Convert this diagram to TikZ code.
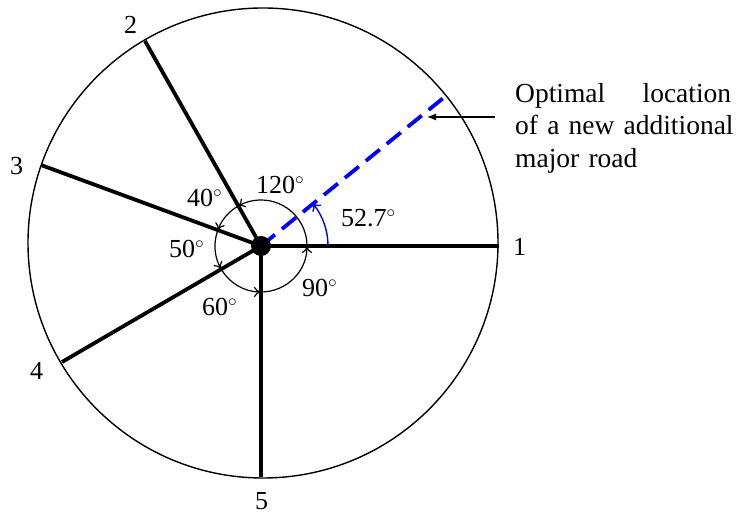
\documentclass[tikz,border=0pt]{standalone}
\usepackage{fontspec}
\setmainfont{Liberation Serif}
\usetikzlibrary{arrows.meta}
\begin{document}
\begin{tikzpicture}[x=1pt,y=1pt,
  road/.style={line width=3.8pt},
  anglearc/.style={line width=1.2pt,-{To[length=7pt,width=10pt]}},
  lbl/.style={inner sep=0pt,anchor=base west,font=\fontsize{26}{30}\selectfont},
  newroad/.style={blue,line width=3.8pt,dash pattern=on 18pt off 9pt}]
\useasboundingbox (0,0) rectangle (738,516);
% outer circle
\draw[line width=1.4pt] (263,273) circle[radius=235pt];
% road end points
\coordinate (r1) at (499,270);
\coordinate (r2) at (145,475);
\coordinate (r3) at (41,351);
\coordinate (r4) at (62,154);
\coordinate (r5) at (261,39);
\coordinate (rn) at (447,421);
\coordinate (cc) at (261,270);
% new road
\draw[newroad] (cc) -- (rn);
% roads
\foreach \r in {r1,r2,r3,r4,r5} \draw[road] (cc) -- (\r);
\node[circle,fill=black,minimum size=20pt,inner sep=0pt] (c) at (cc) {};
% angle arcs
\draw[anglearc] ([shift={(270:46pt)}]cc) arc[start angle=270,end angle=360,radius=46pt];
\draw[anglearc] ([shift={(0:46pt)}]cc) arc[start angle=0,end angle=120,radius=46pt];
\draw[anglearc] ([shift={(120:46pt)}]cc) arc[start angle=120,end angle=160,radius=46pt];
\draw[anglearc] ([shift={(160:46pt)}]cc) arc[start angle=160,end angle=210,radius=46pt];
\draw[anglearc] ([shift={(210:46pt)}]cc) arc[start angle=210,end angle=270,radius=46pt];
\draw[blue,line width=1.4pt,-{To[length=7pt,width=11pt]}] ([shift={(0:67pt)}]cc) arc[start angle=0,end angle=39.5,radius=67pt];
% road numbers
\node[lbl] (n1) at (513,260) {1};
\node[lbl] (n2) at (124,482) {2};
\node[lbl] (n3) at (10,341) {3};
\node[lbl] (n4) at (30,136) {4};
\node[lbl] (n5) at (255,6) {5};
% angle labels
\node[lbl] (a120) at (256,322) {120$^\circ$};
\node[lbl] (a40) at (187,309) {40$^\circ$};
\node[lbl] (a50) at (169,258) {50$^\circ$};
\node[lbl] (a60) at (202,200) {60$^\circ$};
\node[lbl] (a90) at (302,219) {90$^\circ$};
\node[lbl] (a52) at (341,289) {52.7$^\circ$};
% annotation
\node[inner sep=0pt,anchor=north west,align=left,text width=220pt,
  font=\fontsize{27.5}{32.5}\selectfont] (txt) at (515,433)
  {\makebox[216pt][l]{Optimal\hfill location}\\of a new additional\\major road};
\coordinate (tip) at (427,399);
\draw[line width=1.2pt,-{Latex[length=9pt,width=7pt]}] (495,399) -- (tip);
\end{tikzpicture}
\end{document}
